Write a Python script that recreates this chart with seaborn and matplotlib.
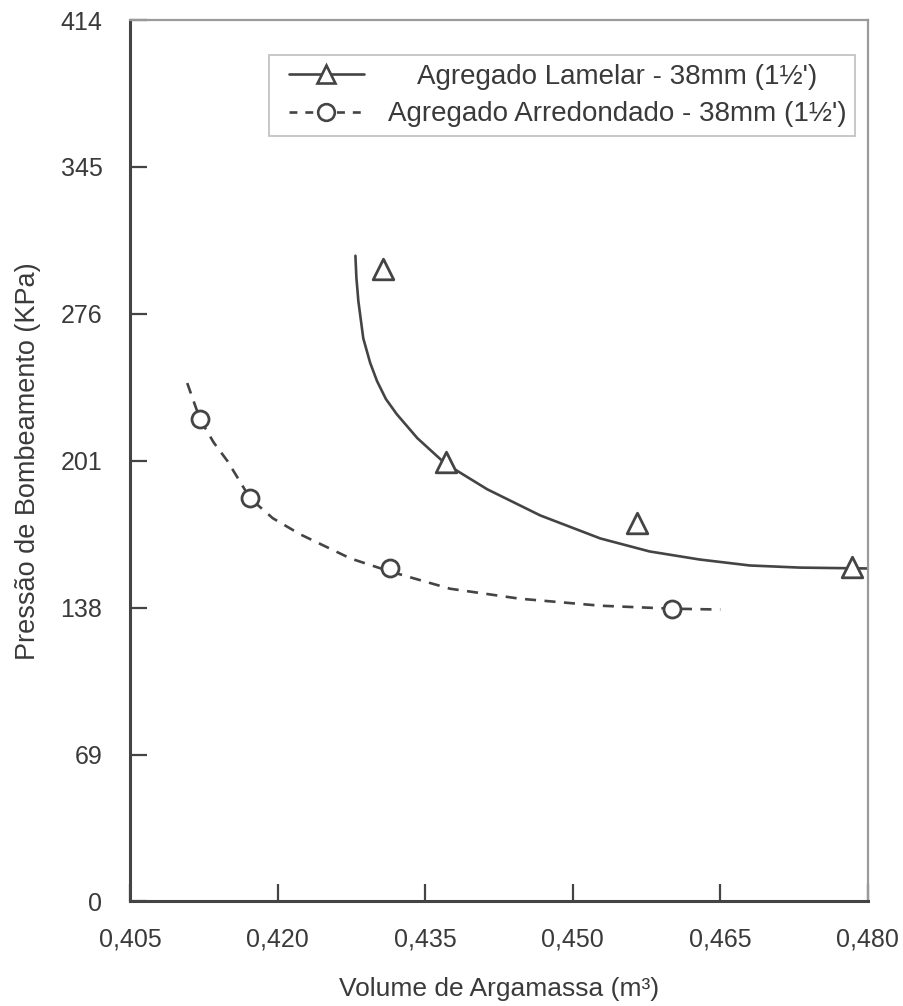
import matplotlib
matplotlib.use("Agg")
import matplotlib.pyplot as plt
from matplotlib.lines import Line2D
from matplotlib.patches import Rectangle
from matplotlib.transforms import Affine2D, IdentityTransform
import seaborn as sns
import pandas as pd

# pontos medidos
lamelar_x = [0.4307, 0.4371, 0.4565, 0.4784]
lamelar_y = [297.2, 206.3, 177.6, 157.3]
arred_x = [0.4121, 0.4172, 0.4314, 0.4601]
arred_y = [226.5, 189.3, 156.4, 137.5]

# curvas de ajuste
curva_lam_x = [0.4279, 0.4280, 0.4282, 0.4287, 0.4294, 0.4301, 0.4310, 0.4321,
               0.4342, 0.4370, 0.4413, 0.4467, 0.4528, 0.4578, 0.4629, 0.4680,
               0.4731, 0.4799]
curva_lam_y = [303.3, 293.0, 282.0, 264.5, 253.0, 244.4, 236.0, 228.9,
               217.6, 205.8, 193.6, 181.3, 170.5, 164.4, 160.6, 157.8,
               156.8, 156.4]
curva_arr_x = [0.4108, 0.4121, 0.4135, 0.4149, 0.4172, 0.4195, 0.4223, 0.4274,
               0.4314, 0.4375, 0.4446, 0.4528, 0.4601, 0.4650]
curva_arr_y = [243.5, 226.5, 215.5, 206.8, 189.3, 180.0, 172.4, 161.1,
               155.0, 146.9, 142.2, 138.9, 137.5, 137.1]

x_ticks = [0.405, 0.420, 0.435, 0.450, 0.465, 0.480]
x_labels = ["0,405", "0,420", "0,435", "0,450", "0,465", "0,480"]
y_ticks = [0, 69, 138, 207, 276, 345, 414]
y_labels = ["0", "69", "138", "201", "276", "345", "414"]

lbl_lam = "Agregado Lamelar - 38mm (1½')"
lbl_arr = "Agregado Arredondado - 38mm (1½')"

sns.set_style("ticks")
plt.rcParams["font.family"] = ["Liberation Sans", "DejaVu Sans"]
cor = "#444444"
cor_txt = "#3a3a3a"

fig = plt.figure(figsize=(9.04, 10.06), dpi=100)
ax = fig.add_axes([0.144, 0.104, 0.816, 0.876])

df_lam = pd.DataFrame({"x": curva_lam_x, "y": curva_lam_y})
df_arr = pd.DataFrame({"x": curva_arr_x, "y": curva_arr_y})
sns.lineplot(data=df_lam, x="x", y="y", ax=ax, color=cor, lw=1.9, sort=False)
sns.lineplot(data=df_arr, x="x", y="y", ax=ax, color=cor, lw=1.9, sort=False,
             linestyle=(0, (4.2, 3.2)))

sns.scatterplot(x=lamelar_x, y=lamelar_y, ax=ax, marker="^", s=220,
                facecolor="white", edgecolor=cor, linewidth=2, zorder=5)
sns.scatterplot(x=arred_x, y=arred_y, ax=ax, marker="o", s=150,
                facecolor="white", edgecolor=cor, linewidth=2, zorder=5)

ax.set_xlim(0.405, 0.480)
ax.set_ylim(0, 414)
ax.set_xticks(x_ticks)
ax.set_xticklabels(x_labels)
ax.set_yticks(y_ticks)
ax.set_yticklabels(y_labels)
ax.tick_params(direction="in", length=12, width=1.6, color=cor,
               labelsize=18, labelcolor=cor_txt)
ax.tick_params(axis="x", pad=19)
ax.tick_params(axis="y", pad=20)

for s in ["left", "bottom"]:
    ax.spines[s].set_color(cor)
    ax.spines[s].set_linewidth(2.2)
for s in ["top", "right"]:
    ax.spines[s].set_color("#9a9a9a")
    ax.spines[s].set_linewidth(1.6)

ax.set_xlabel("Volume de Argamassa (m³)", fontsize=19, color=cor_txt, labelpad=18)
ax.set_ylabel("Pressão de Bombeamento (KPa)", fontsize=19.5, color=cor_txt, labelpad=14)

handles = [
    Line2D([], [], color=cor, lw=1.9, marker="^", markersize=13,
           markerfacecolor="white", markeredgecolor=cor, markeredgewidth=1.9),
    Line2D([], [], color=cor, lw=1.9, linestyle=(0, (3, 3)), marker="o",
           markersize=12, markerfacecolor="white", markeredgecolor=cor,
           markeredgewidth=1.9),
]
leg = ax.legend(handles, [lbl_lam, lbl_arr], loc="upper right",
                bbox_to_anchor=(0.982, 0.960), borderaxespad=0,
                fontsize=20, frameon=False, handlelength=2.7, borderpad=0.3,
                labelspacing=0.42, handletextpad=0.85)
for t in leg.get_texts():
    t.set_color(cor_txt)

# centraliza a primeira linha e desenha a moldura com mais folga a esquerda
fig.canvas.draw()
rend = fig.canvas.get_renderer()
t0, t1 = leg.get_texts()
dx = (t1.get_window_extent(rend).width - t0.get_window_extent(rend).width) / 2
t0.set_transform(t0.get_transform() + Affine2D().translate(dx, 0))
bb = leg.get_window_extent(rend)
frame = Rectangle((bb.x0 - 12, bb.y0), bb.width + 12, bb.height,
                  transform=IdentityTransform(), fill=False,
                  edgecolor="#c4c4c4", lw=1.3, zorder=6)
fig.add_artist(frame)

fig.savefig("out.png", dpi=100)
